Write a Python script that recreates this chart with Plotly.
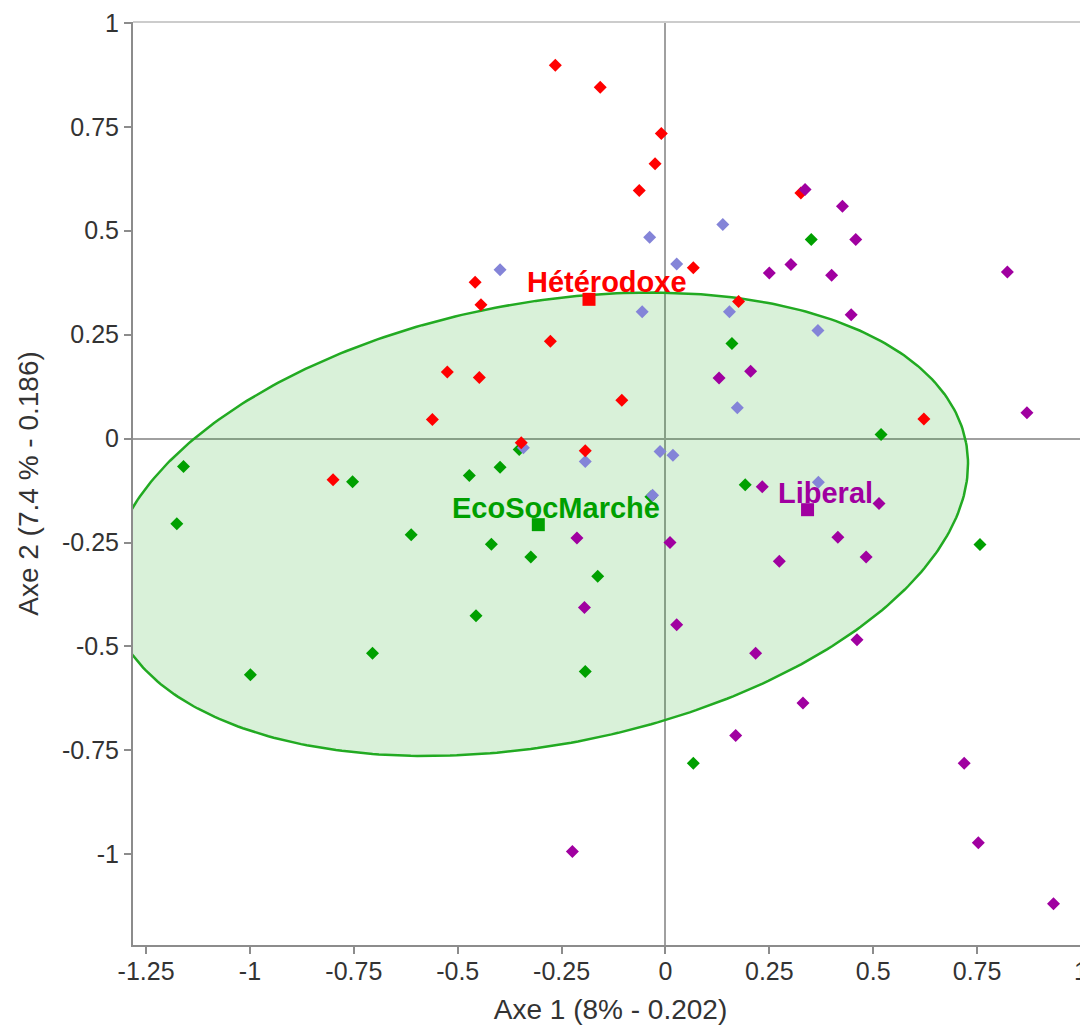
import numpy as np
import plotly.graph_objects as go

# ---------------- data ----------------
green_x = [-1.160, -1.176, -0.753, -0.705, -0.999, -0.352, -0.472, -0.398, 0.160, 0.192,
           -0.612, -0.419, -0.324, -0.163, -0.456, -0.193, -0.035, 0.351, 0.519, 0.757, 0.067]
green_y = [-0.067, -0.205, -0.104, -0.516, -0.568, -0.026, -0.089, -0.069, 0.229, -0.111,
           -0.231, -0.254, -0.285, -0.331, -0.426, -0.560, -0.140, 0.479, 0.010, -0.255, -0.781]

blue_x = [-0.398, -0.038, 0.138, 0.027, -0.056, 0.154, 0.367, -0.342, -0.193, -0.013,
          0.018, 0.173, -0.031, 0.368]
blue_y = [0.406, 0.484, 0.515, 0.420, 0.305, 0.305, 0.260, -0.022, -0.055, -0.031,
          -0.040, 0.074, -0.136, -0.105]

red_x = [-0.265, -0.157, -0.010, -0.025, -0.063, -0.458, -0.444, 0.067, 0.176, -0.277,
         0.326, -0.525, -0.448, -0.561, -0.105, -0.347, -0.193, -0.800, 0.622]
red_y = [0.898, 0.845, 0.734, 0.661, 0.597, 0.376, 0.322, 0.411, 0.330, 0.234,
         0.591, 0.160, 0.147, 0.046, 0.092, -0.010, -0.029, -0.099, 0.047]

purple_x = [0.336, 0.426, 0.458, 0.250, 0.302, 0.400, 0.823, 0.447, 0.129, 0.205,
            0.233, -0.213, 0.011, 0.274, -0.195, 0.027, 0.217, 0.514, 0.415, 0.483,
            0.870, 0.461, -0.224, 0.169, 0.331, 0.719, 0.753, 0.934]
purple_y = [0.599, 0.559, 0.479, 0.398, 0.419, 0.393, 0.401, 0.298, 0.146, 0.162,
            -0.116, -0.239, -0.250, -0.295, -0.406, -0.448, -0.516, -0.156, -0.237, -0.285,
            0.062, -0.484, -0.993, -0.714, -0.636, -0.781, -0.972, -1.119]

centroid_names = ["Hétérodoxe", "EcoSocMarche", "Liberal"]
centroid_x = [-0.184, -0.306, 0.342]
centroid_y = [0.335, -0.207, -0.171]
centroid_colors = ["#ff0000", "#00a000", "#a000a0"]

# confidence ellipse of EcoSocMarche: center, semi-axes, rotation (deg)
ell_cx, ell_cy = -0.306, -0.206
ell_a, ell_b = 1.048, 0.531
ell_angle = 10.8

x_ticks = [-1.25, -1, -0.75, -0.5, -0.25, 0, 0.25, 0.5, 0.75, 1]
x_tick_text = ["-1.25", "-1", "-0.75", "-0.5", "-0.25", "0", "0.25", "0.5", "0.75", "1"]
y_ticks = [-1, -0.75, -0.5, -0.25, 0, 0.25, 0.5, 0.75, 1]
y_tick_text = ["-1", "-0.75", "-0.5", "-0.25", "0", "0.25", "0.5", "0.75", "1"]

# ---------------- figure ----------------
FONT = "Liberation Sans, Arial, sans-serif"
fig = go.Figure()

t = np.linspace(0, 2 * np.pi, 400)
phi = np.deg2rad(ell_angle)
ex = ell_cx + ell_a * np.cos(t) * np.cos(phi) - ell_b * np.sin(t) * np.sin(phi)
ey = ell_cy + ell_a * np.cos(t) * np.sin(phi) + ell_b * np.sin(t) * np.cos(phi)
fig.add_trace(go.Scatter(x=ex, y=ey, mode="lines", fill="toself",
                         fillcolor="rgba(0,160,0,0.15)",
                         line=dict(color="#22aa22", width=2.5),
                         hoverinfo="skip", showlegend=False))

def pts(xs, ys, color):
    fig.add_trace(go.Scatter(x=xs, y=ys, mode="markers", showlegend=False,
                             marker=dict(symbol="diamond", size=10, color=color,
                                         line=dict(width=0))))

pts(green_x, green_y, "#00a000")
pts(blue_x, blue_y, "#8484d8")
pts(red_x, red_y, "#ff0000")
pts(purple_x, purple_y, "#a000a0")

fig.add_trace(go.Scatter(x=centroid_x, y=centroid_y, mode="markers", showlegend=False,
                         marker=dict(symbol="square", size=13, color=centroid_colors,
                                     line=dict(width=0))))

for n, cx, cy, c in zip(centroid_names, centroid_x, centroid_y, centroid_colors):
    fig.add_annotation(x=cx, y=cy, text="<b>%s</b>" % n, showarrow=False,
                       xshift=18, yshift=17,
                       font=dict(family=FONT, size=29, color=c))

fig.add_shape(type="line", xref="paper", yref="paper", x0=0, x1=1, y0=1, y1=1,
              line=dict(color="#cccccc", width=2))

# page body adds an 8px margin, so the figure is 8px smaller than the window
fig.update_layout(
    width=1080, height=1020,
    margin=dict(l=125, r=0, t=14, b=83),
    paper_bgcolor="white", plot_bgcolor="white",
    font=dict(family=FONT, color="#333333"),
)
fig.update_xaxes(range=[-1.2815, 1.017], tickvals=x_ticks, ticktext=x_tick_text,
                 automargin=False,
                 showgrid=False, zeroline=True, zerolinecolor="#a0a0a0", zerolinewidth=1.5,
                 showline=True, linecolor="#8c8c8c", linewidth=2,
                 ticks="outside", ticklen=7, tickcolor="#8c8c8c", tickwidth=1.5,
                 ticklabelstandoff=-4,
                 tickfont=dict(size=25, color="#333333"),
                 title=dict(text="Axe 1 (8% - 0.202)", font=dict(size=28, color="#333333")))
fig.update_yaxes(range=[-1.218, 1.002], tickvals=y_ticks, ticktext=y_tick_text,
                 automargin=False,
                 showgrid=False, zeroline=True, zerolinecolor="#a0a0a0", zerolinewidth=1.5,
                 showline=True, linecolor="#8c8c8c", linewidth=2,
                 ticks="outside", ticklen=7, tickcolor="#8c8c8c", tickwidth=1.5,
                 tickfont=dict(size=25, color="#333333"),
                 title=dict(text="Axe 2 (7.4 % - 0.186)", font=dict(size=28, color="#333333")))

fig.write_html("out.html")
